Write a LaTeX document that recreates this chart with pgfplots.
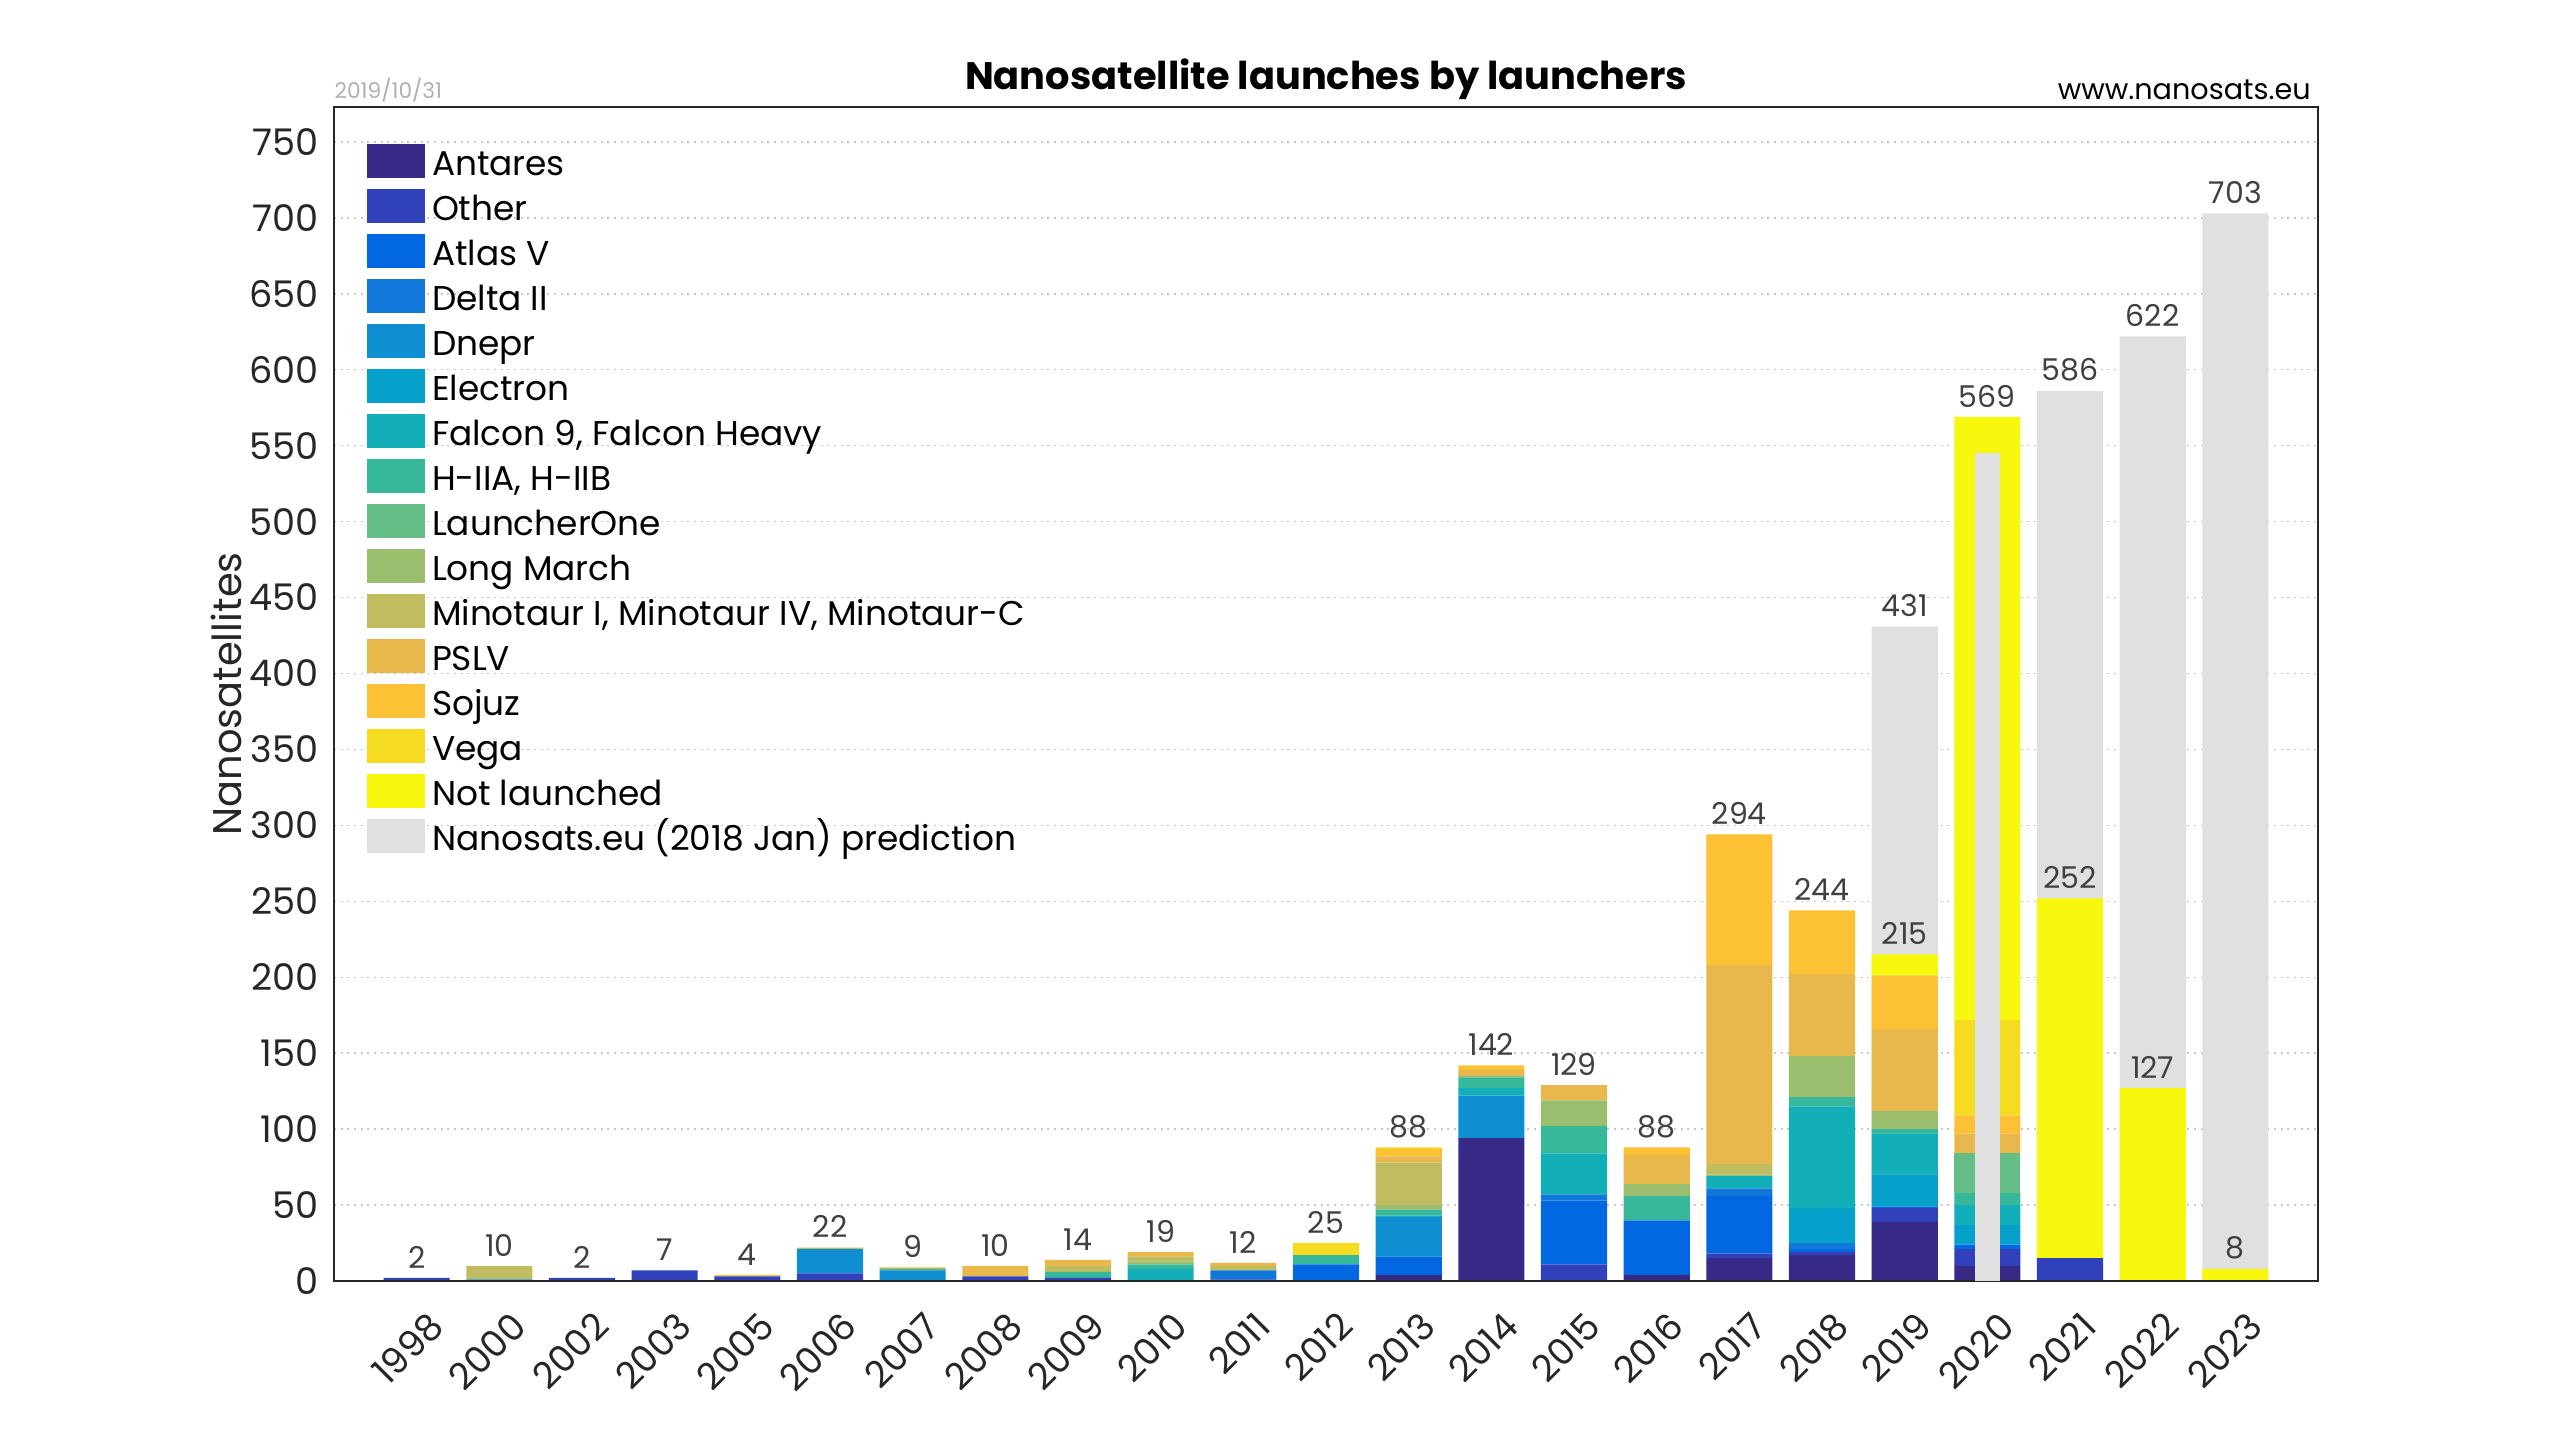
\documentclass[border=0pt]{standalone}
\usepackage{pgfplots}
\pgfplotsset{compat=1.18}
\usepackage{pgfplotstable}
\usepackage{fontspec}
\setmainfont{Poppins}

\definecolor{cAntares}{HTML}{372A87}
\definecolor{cOther}{HTML}{3041B9}
\definecolor{cAtlas}{HTML}{0268E1}
\definecolor{cDelta}{HTML}{1178DA}
\definecolor{cDnepr}{HTML}{0F8ED2}
\definecolor{cElectron}{HTML}{06A0CB}
\definecolor{cFalcon}{HTML}{12AFB8}
\definecolor{cHII}{HTML}{38B89A}
\definecolor{cLOne}{HTML}{64BE86}
\definecolor{cLM}{HTML}{9BBE6E}
\definecolor{cMino}{HTML}{C0BC60}
\definecolor{cPSLV}{HTML}{E8B84D}
\definecolor{cSojuz}{HTML}{FDC136}
\definecolor{cVega}{HTML}{F5DC21}
\definecolor{cNL}{HTML}{F8F80E}
\definecolor{cPred}{HTML}{E0E0E0}
\definecolor{txt}{HTML}{262626}
\definecolor{lab}{HTML}{404040}
\definecolor{cGrid}{HTML}{C8C8C8}
\definecolor{cDate}{HTML}{B0B0B0}

\pgfplotstableread{
x  Antares Other AtlasV DeltaII Dnepr Electron Falcon HII LOne LM Mino PSLV Sojuz Vega NL
0  0  2  0  0  0  0  0  0  0  0  0  0   0  0  0
1  0  0  0  0  1  0  0  0  0  0  9  0   0  0  0
2  0  2  0  0  0  0  0  0  0  0  0  0   0  0  0
3  0  7  0  0  0  0  0  0  0  0  0  0   0  0  0
4  0  3  0  0  0  0  0  0  0  0  0  0   1  0  0
5  0  5  0  0  16 0  0  0  0  0  1  0   0  0  0
6  0  0  0  0  7  0  0  1  0  0  0  1   0  0  0
7  0  3  0  0  0  0  0  0  0  0  0  7   0  0  0
8  0  2  0  0  0  0  0  4  0  0  4  4   0  0  0
9  0  0  0  0  0  0  8  3  0  2  3  3   0  0  0
10 0  1  0  6  0  0  0  0  0  0  3  2   0  0  0
11 0  0  11 0  0  0  0  6  0  0  0  0   0  8  0
12 4  0  12 0  26 0  1  4  0  3  28 4   5  1  0
13 94 0  0  0  28 0  5  7  0  1  0  4   3  0  0
14 0  11 42 4  0  0  27 18 0  17 0  10  0  0  0
15 4  0  36 0  0  0  0  16 0  8  0  19  5  0  0
16 15 3  38 5  0  0  8  0  0  1  7  131 86 0  0
17 17 2  2  4  0  23 67 6  0  27 0  54  42 0  0
18 39 9  1  0  0  21 27 3  0  12 0  54  35 0  14
19 10 11 3  0  0  13 13 8  26 0  0  13  12 63 397
20 0  15 0  0  0  0  0  0  0  0  0  0   0  0  237
21 0  0  0  0  0  0  0  0  0  0  0  0   0  0  127
22 0  0  0  0  0  0  0  0  0  0  0  0   0  0  8
}\data

\pgfplotsset{
  myaxis/.style={
    width=595.2pt, height=352.2pt, scale only axis,
    at={(100.2pt,47.7pt)}, anchor=south west,
    xmin=-1, xmax=23, ymin=0, ymax=773,
    enlargelimits=false,
    axis line style={txt, line width=0.6pt},
    major tick length=0pt,
    /pgf/number format/assume math mode=true,
  }
}

\begin{document}
\begin{tikzpicture}
\useasboundingbox (0,0) rectangle (768pt,432pt);

% background: grid, ticks, labels, prediction bars
\begin{axis}[myaxis, clip=false,
  ybar, bar width=0.8,
  xtick={0,...,22},
  xticklabels={1998,2000,2002,2003,2005,2006,2007,2008,2009,2010,2011,2012,2013,2014,2015,2016,2017,2018,2019,2020,2021,2022,2023},
  ytick={0,50,...,750},
  ymajorgrids,
  grid style={cGrid, line width=0.45pt, dash pattern=on 0.6pt off 1.4pt},
  yticklabel style={font=\fontsize{11}{13}\selectfont, text=txt, anchor=east, inner sep=0pt, xshift=-4.5pt},
  xticklabel style={font=\fontsize{11}{13}\selectfont, text=txt, inner sep=0pt, xshift=3pt, yshift=-8.4pt, rotate=45, anchor=north east},
  ylabel={Nanosatellites},
  ylabel style={at={(axis description cs:-0.0544,0.5)}, anchor=center, font=\fontsize{12}{14}\selectfont, text=txt},
  title={Nanosatellite launches by launchers},
  every axis title/.style={at={(axis description cs:0.5,1)}, anchor=base, yshift=5.1pt, font=\bfseries\fontsize{11.5}{13}\selectfont, text=black},
]
\addplot[fill=cPred, draw=none] coordinates {(18,431) (20,586) (21,622) (22,703)};
\node[anchor=base west, inner sep=0pt, font=\fontsize{6.5}{8}\selectfont, text=cDate] at (axis description cs:0,1) [yshift=2.4pt] {2019/10/31};
\node[anchor=base east, inner sep=0pt, font=\fontsize{8.6}{10}\selectfont, text=black] at (axis description cs:1,1) [yshift=2.1pt, xshift=-2pt] {www.nanosats.eu};
\end{axis}

% stacked launches
\begin{axis}[myaxis, hide axis,
  ybar stacked, bar width=0.8,
  legend image code/.code={\fill[#1] (0pt,-3.6pt) rectangle (17.4pt,6.6pt);},
  legend cell align=left,
  legend style={at={(axis description cs:0,1)}, anchor=north west, xshift=9.9pt, yshift=-10.9pt,
    draw=none, fill=none, inner sep=0pt, outer sep=0pt, row sep=0pt, column sep=2.1pt,
    font=\fontsize{10.3}{12}\selectfont, text=black,
    nodes={inner sep=0pt, text height=9.5pt, text depth=4pt}},
]
\addplot[fill=cAntares, draw=none] table[x=x, y=Antares]{\data};
\addlegendentry{Antares}
\addplot[fill=cOther, draw=none] table[x=x, y=Other]{\data};
\addlegendentry{Other}
\addplot[fill=cAtlas, draw=none] table[x=x, y=AtlasV]{\data};
\addlegendentry{Atlas V}
\addplot[fill=cDelta, draw=none] table[x=x, y=DeltaII]{\data};
\addlegendentry{Delta II}
\addplot[fill=cDnepr, draw=none] table[x=x, y=Dnepr]{\data};
\addlegendentry{Dnepr}
\addplot[fill=cElectron, draw=none] table[x=x, y=Electron]{\data};
\addlegendentry{Electron}
\addplot[fill=cFalcon, draw=none] table[x=x, y=Falcon]{\data};
\addlegendentry{Falcon 9, Falcon Heavy}
\addplot[fill=cHII, draw=none] table[x=x, y=HII]{\data};
\addlegendentry{H-IIA, H-IIB}
\addplot[fill=cLOne, draw=none] table[x=x, y=LOne]{\data};
\addlegendentry{LauncherOne}
\addplot[fill=cLM, draw=none] table[x=x, y=LM]{\data};
\addlegendentry{Long March}
\addplot[fill=cMino, draw=none] table[x=x, y=Mino]{\data};
\addlegendentry{Minotaur I, Minotaur IV, Minotaur-C}
\addplot[fill=cPSLV, draw=none] table[x=x, y=PSLV]{\data};
\addlegendentry{PSLV}
\addplot[fill=cSojuz, draw=none] table[x=x, y=Sojuz]{\data};
\addlegendentry{Sojuz}
\addplot[fill=cVega, draw=none] table[x=x, y=Vega]{\data};
\addlegendentry{Vega}
\addplot[fill=cNL, draw=none] table[x=x, y=NL]{\data};
\addlegendentry{Not launched}
\addlegendimage{fill=cPred, draw=none}
\addlegendentry{Nanosats.eu (2018 Jan) prediction}
\end{axis}

% overlay: narrow 2020 prediction bar, value labels, box
\begin{axis}[myaxis,
  xtick=\empty, ytick=\empty,
]
\addplot[ybar, bar width=0.3, bar shift=0pt, fill=cPred, draw=none] coordinates {(19,545)};
\addplot[draw=none, nodes near coords, point meta=y,
  nodes near coords style={font=\fontsize{9}{10}\selectfont, text=lab, anchor=south, inner sep=0pt, yshift=2.7pt}]
  coordinates {(0,2) (1,10) (2,2) (3,7) (4,4) (5,22) (6,9) (7,10) (8,14) (9,19) (10,12) (11,25)
  (12,88) (13,142) (14,129) (15,88) (16,294) (17,244) (18,215) (19,569) (20,252) (21,127) (22,8)
  (18.0001,431) (20.0001,586) (21.0001,622) (22.0001,703)};
\end{axis}
\end{tikzpicture}
\end{document}
